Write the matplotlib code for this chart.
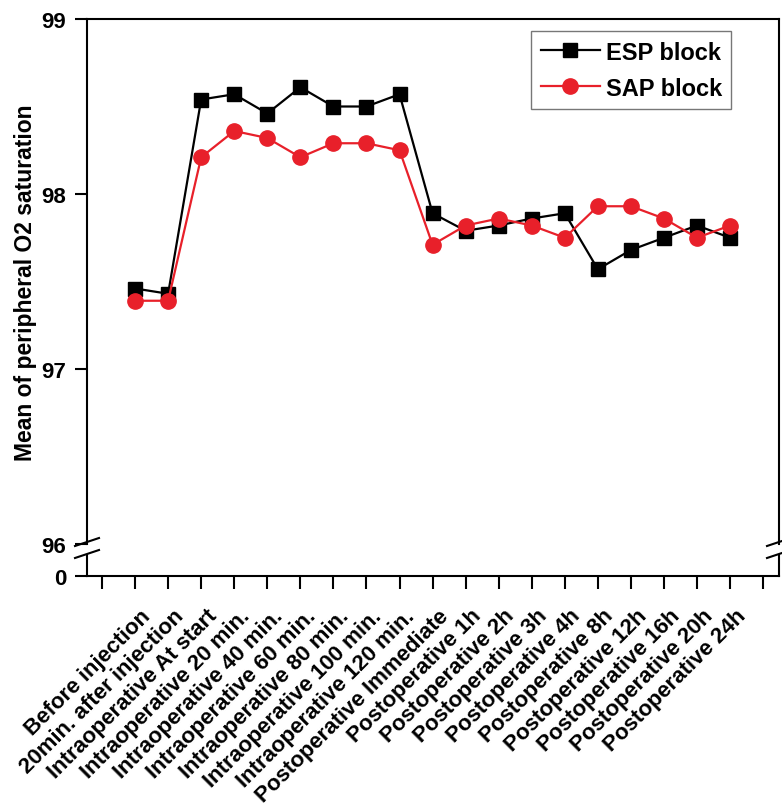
import numpy as np
import matplotlib.pyplot as plt
import matplotlib.transforms as mtransforms

plt.rcParams['font.family'] = ['Liberation Sans', 'DejaVu Sans']
plt.rcParams['font.weight'] = 'bold'

labels = ['Before injection', '20min. after injection', 'Intraoperative At start',
          'Intraoperative 20 min.', 'Intraoperative 40 min.', 'Intraoperative 60 min.',
          'Intraoperative 80 min.', 'Intraoperative 100 min.', 'Intraoperative 120 min.',
          'Postoperative Immediate', 'Postoperative 1h', 'Postoperative 2h',
          'Postoperative 3h', 'Postoperative 4h', 'Postoperative 8h',
          'Postoperative 12h', 'Postoperative 16h', 'Postoperative 20h',
          'Postoperative 24h']
esp = [97.46, 97.43, 98.54, 98.57, 98.46, 98.61, 98.50, 98.50, 98.57,
       97.89, 97.79, 97.82, 97.86, 97.89, 97.57, 97.68, 97.75, 97.82, 97.75]
sap = [97.39, 97.39, 98.21, 98.36, 98.32, 98.21, 98.29, 98.29, 98.25,
       97.71, 97.82, 97.86, 97.82, 97.75, 97.93, 97.93, 97.86, 97.75, 97.82]

W, H = 782, 812
fig = plt.figure(figsize=(W / 100, H / 100), dpi=100)


def box(l, t, r, b):
    return [l / W, 1 - b / H, (r - l) / W, (b - t) / H]


ax = fig.add_axes(box(87, 20, 779, 545))
axb = fig.add_axes(box(87, 556, 779, 577))

x = np.arange(1, len(labels) + 1)
xlim = (-0.454, len(labels) + 1.48)

red = '#e8202a'
ax.plot(x, esp, color='black', lw=1.6, marker='s', ms=9.5, label='ESP block')
ax.plot(x, sap, color=red, lw=1.6, marker='o', ms=11, label='SAP block')

for a in (ax, axb):
    a.set_xlim(*xlim)
    for s in a.spines.values():
        s.set_linewidth(1.5)
    a.tick_params(direction='out', length=9, width=1.5, labelsize=16, pad=6)

ax.set_ylim(96, 99)
ax.set_yticks([96, 97, 98, 99])
ax.spines['bottom'].set_visible(False)
ax.tick_params(axis='x', bottom=False, labelbottom=False)
ax.set_ylabel('Mean of peripheral O2 saturation', fontsize=16.5, fontweight='bold', labelpad=3)

axb.set_ylim(0, 1)
axb.set_yticks([0])
axb.spines['top'].set_visible(False)
axb.set_xticks(np.arange(0, len(labels) + 2))
axb.set_xticklabels([''] + labels + [''], rotation=45, ha='right',
                    rotation_mode='anchor', fontsize=16)
axb.tick_params(axis='x', pad=12)
shift = mtransforms.ScaledTranslation(5 / 100, 0, fig.dpi_scale_trans)
for lab in axb.get_xticklabels():
    lab.set_transform(lab.get_transform() + shift)

leg = ax.legend(loc='upper right', bbox_to_anchor=(0.931, 0.977), fontsize=17,
                fancybox=False, edgecolor='#555555', handlelength=2.5,
                borderpad=0.4, labelspacing=0.55, handletextpad=0.25, borderaxespad=0)
leg.get_frame().set_linewidth(1.0)

# axis break marks
for xc in (87, 779):
    for yc in (543, 555):
        fig.add_artist(plt.Line2D([(xc - 12) / W, (xc + 12) / W],
                                  [1 - (yc + 4) / H, 1 - (yc - 4) / H],
                                  color='black', lw=1.5))

fig.savefig('out.png', dpi=100)
